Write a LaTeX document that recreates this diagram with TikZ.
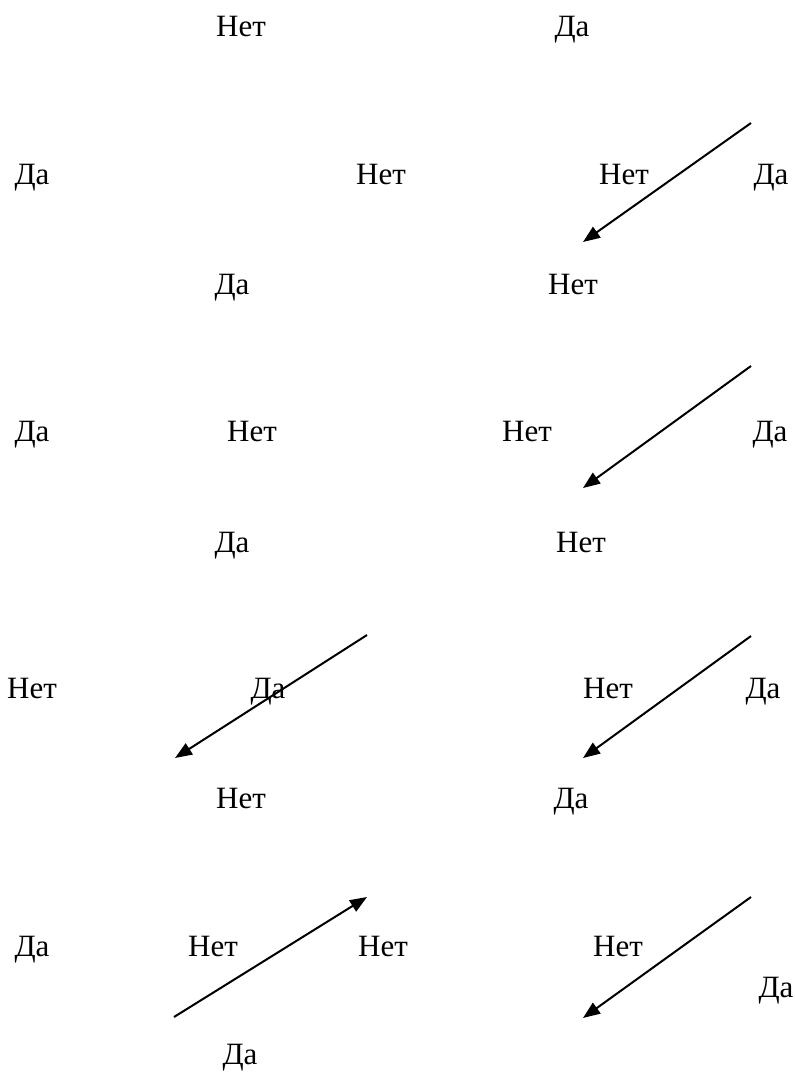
\documentclass[tikz,border=0pt]{standalone}
\usepackage{fontspec}
\setmainfont{Liberation Serif}
\newfontfamily\lblfont{Liberation Serif}
\usetikzlibrary{arrows.meta}
\begin{document}
\begin{tikzpicture}[x=0.5pt,y=-0.5pt,
  lbl/.style={inner sep=0pt,anchor=base,font=\lblfont\fontsize{15.5pt}{18pt}\selectfont},
  arr/.style={line width=1pt,-{Triangle[length=8.5pt,width=6.5pt]}}]
\useasboundingbox (0,0) rectangle (795,1072);
% row 0
\node[lbl] (n01) at (241,36) {Нет};
\node[lbl] (n02) at (572,36) {Да};
% row 1
\node[lbl] (n11) at (32,184) {Да};
\node[lbl] (n12) at (381,184) {Нет};
\node[lbl] (n13) at (624,184) {Нет};
\node[lbl] (n14) at (771,184) {Да};
\coordinate (a1s) at (751,123);
\coordinate (a1e) at (583,242);
\draw[arr] (a1s) -- (a1e);
% row 1b
\node[lbl] (n15) at (232,294) {Да};
\node[lbl] (n16) at (573,294) {Нет};
% row 2
\node[lbl] (n21) at (32,441) {Да};
\node[lbl] (n22) at (252,441) {Нет};
\node[lbl] (n23) at (527,441) {Нет};
\node[lbl] (n24) at (770,441) {Да};
\coordinate (a2s) at (751,366);
\coordinate (a2e) at (583,488);
\draw[arr] (a2s) -- (a2e);
% row 2b
\node[lbl] (n25) at (232,552) {Да};
\node[lbl] (n26) at (581,552) {Нет};
% row 3
\node[lbl] (n31) at (32,698) {Нет};
\node[lbl] (n32) at (268,698) {Да};
\node[lbl] (n33) at (608,698) {Нет};
\node[lbl] (n34) at (763,698) {Да};
\coordinate (a3s) at (367,635);
\coordinate (a3e) at (175,758);
\draw[arr] (a3s) -- (a3e);
\coordinate (a4s) at (751,636);
\coordinate (a4e) at (583,758);
\draw[arr] (a4s) -- (a4e);
% row 3b
\node[lbl] (n35) at (241,808) {Нет};
\node[lbl] (n36) at (571,808) {Да};
% row 4
\node[lbl] (n41) at (32,956) {Да};
\node[lbl] (n42) at (213,956) {Нет};
\node[lbl] (n43) at (383,956) {Нет};
\node[lbl] (n44) at (618,956) {Нет};
\node[lbl] (n45) at (776,997) {Да};
\coordinate (a5s) at (174,1017);
\coordinate (a5e) at (367,897);
\draw[arr] (a5s) -- (a5e);
\coordinate (a6s) at (751,897);
\coordinate (a6e) at (583,1018);
\draw[arr] (a6s) -- (a6e);
% row 4b
\node[lbl] (n46) at (240,1064) {Да};
\end{tikzpicture}
\end{document}
